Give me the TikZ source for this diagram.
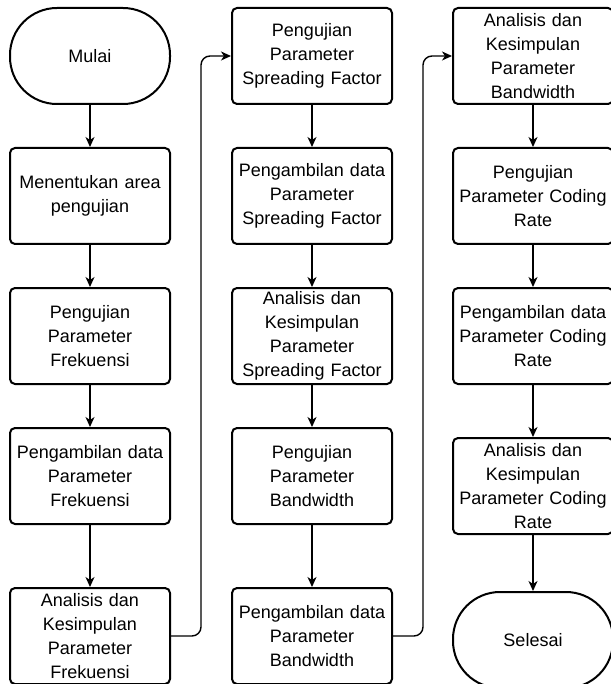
\documentclass[tikz,border=0pt]{standalone}
\usepackage{fontspec}
\setmainfont{Liberation Sans}
\usetikzlibrary{arrows.meta,positioning}

\begin{document}
\begin{tikzpicture}[->,>={Stealth[length=10pt,width=9pt,inset=3pt]},line width=1.4pt,node distance=42pt,font=\fontsize{18}{24}\selectfont]
		\tikzstyle{proc}=[draw=black,line width=2pt,rectangle,rounded corners=5pt,text width=156pt,inner sep=2pt,minimum height=96pt,align=center]
		\tikzstyle{term}=[proc,rounded corners=47pt]
		\tikzstyle{jump}=[rounded corners=9pt]

		\useasboundingbox (0,0) rectangle (610pt,-684pt);

		\node[term] (mulai) at (90pt,-56pt) {Mulai};
		\node[proc] (area) [below=of mulai] {Menentukan area\\pengujian};
		\node[proc] (frp) [below=of area] {Pengujian\\Parameter\\Frekuensi};
		\node[proc] (frd) [below=of frp] {Pengambilan data\\Parameter\\Frekuensi};
		\node[proc] (fra) [below=62pt of frd] {Analisis dan\\Kesimpulan\\Parameter\\Frekuensi};

		\node[proc] (sfp) [right=60pt of mulai] {Pengujian\\Parameter\\Spreading Factor};
		\node[proc] (sfd) [below=of sfp] {Pengambilan data\\Parameter\\Spreading Factor};
		\node[proc] (sfa) [below=of sfd] {Analisis dan\\Kesimpulan\\Parameter\\Spreading Factor};
		\node[proc] (bwp) [below=of sfa] {Pengujian\\Parameter\\Bandwidth};
		\node[proc] (bwd) [below=62pt of bwp] {Pengambilan data\\Parameter\\Bandwidth};

		\node[proc] (bwa) [right=59pt of sfp] {Analisis dan\\Kesimpulan\\Parameter\\Bandwidth};
		\node[proc] (crp) [below=of bwa] {Pengujian\\Parameter Coding\\Rate};
		\node[proc] (crd) [below=of crp] {Pengambilan data\\Parameter Coding\\Rate};
		\node[proc] (cra) [below=52pt of crd] {Analisis dan\\Kesimpulan\\Parameter Coding\\Rate};
		\node[term] (selesai) [below=56pt of cra] {Selesai};

		\path (mulai) edge (area);
		\path (area) edge (frp);
		\path (frp) edge (frd);
		\path (frd) edge (fra);
		\draw[jump] (fra.east) -- ++(30pt,0) |- (sfp.west);

		\path (sfp) edge (sfd);
		\path (sfd) edge (sfa);
		\path (sfa) edge (bwp);
		\path (bwp) edge (bwd);
		\draw[jump] (bwd.east) -- ++(30pt,0) |- (bwa.west);

		\path (bwa) edge (crp);
		\path (crp) edge (crd);
		\path (crd) edge (cra);
		\path (cra) edge (selesai);
	\end{tikzpicture}
\end{document}
